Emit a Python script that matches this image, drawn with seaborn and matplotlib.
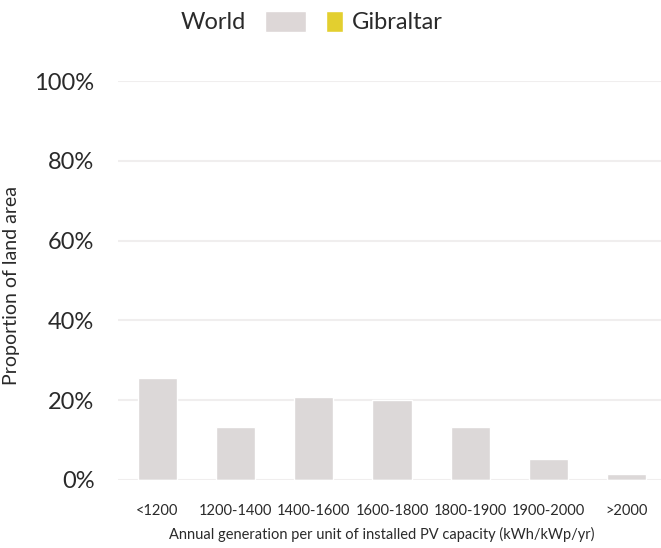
import pandas as pd
import matplotlib.pyplot as plt
import seaborn as sns
from matplotlib.patches import Patch
from matplotlib.ticker import PercentFormatter

# dados
faixas = ['<1200', '1200-1400', '1400-1600', '1600-1800', '1800-1900', '1900-2000', '>2000']
world = [0.255, 0.134, 0.208, 0.200, 0.134, 0.052, 0.014]
gibraltar = [0, 0, 0, 0, 0, 0, 0]

cor_world = '#ddd7d7'
cor_gib = '#e3cf2f'
cor_texto = '#2a2a2a'

dados = pd.DataFrame({
    'Faixa': faixas * 2,
    'Valor': world + gibraltar,
    'Serie': ['World'] * 7 + ['Gibraltar'] * 7,
})

sns.set_style('white')
plt.rcParams['font.family'] = ['Lato', 'DejaVu Sans']

fig = plt.figure(figsize=(6.61, 5.48), dpi=100)
ax = fig.add_axes([118 / 661, 68 / 548, 543 / 661, 399 / 548])

sns.barplot(data=dados, x='Faixa', y='Valor', hue='Serie', dodge=False,
            palette={'World': cor_world, 'Gibraltar': cor_gib},
            width=0.5, legend=False, ax=ax, zorder=3)

ax.set_xlim(-0.5, 6.437)
ax.set_ylim(0, 1.0)
ax.yaxis.set_major_formatter(PercentFormatter(1.0, decimals=0))
ax.set_yticks([0, 0.2, 0.4, 0.6, 0.8, 1.0])
ax.grid(axis='y', color='#f0eeee', linewidth=1.5, zorder=0)
ax.grid(axis='x', visible=False)
sns.despine(ax=ax, left=True, bottom=True, top=True, right=True)
ax.tick_params(axis='y', length=0, pad=17, labelsize=17, labelcolor=cor_texto)
ax.tick_params(axis='x', length=0, pad=17, labelsize=10.5, labelcolor=cor_texto)

ax.set_xlabel('Annual generation per unit of installed PV capacity (kWh/kWp/yr)',
              fontsize=10.5, color=cor_texto)
ax.xaxis.set_label_coords((382 - 118) / 543, -47 / 399)
ax.set_ylabel('Proportion of land area', fontsize=14, color=cor_texto)
ax.yaxis.set_label_coords(-0.18, 0.487)

# legenda: texto antes do quadrado para World
leg1 = fig.legend(handles=[Patch(facecolor=cor_world, label='World')],
                  loc='center right', bbox_to_anchor=(306 / 661, 1 - 22 / 548),
                  frameon=False, markerfirst=False, fontsize=17,
                  handlelength=1.75, handleheight=1.0, handletextpad=0.8,
                  borderpad=0, borderaxespad=0)
leg2 = fig.legend(handles=[Patch(facecolor=cor_gib, label='Gibraltar')],
                  loc='center left', bbox_to_anchor=(326 / 661, 1 - 22 / 548),
                  frameon=False, fontsize=17,
                  handlelength=0.7, handleheight=1.0, handletextpad=0.4,
                  borderpad=0, borderaxespad=0)
for leg in (leg1, leg2):
    for t in leg.get_texts():
        t.set_color(cor_texto)

fig.savefig('out.png', dpi=100)
